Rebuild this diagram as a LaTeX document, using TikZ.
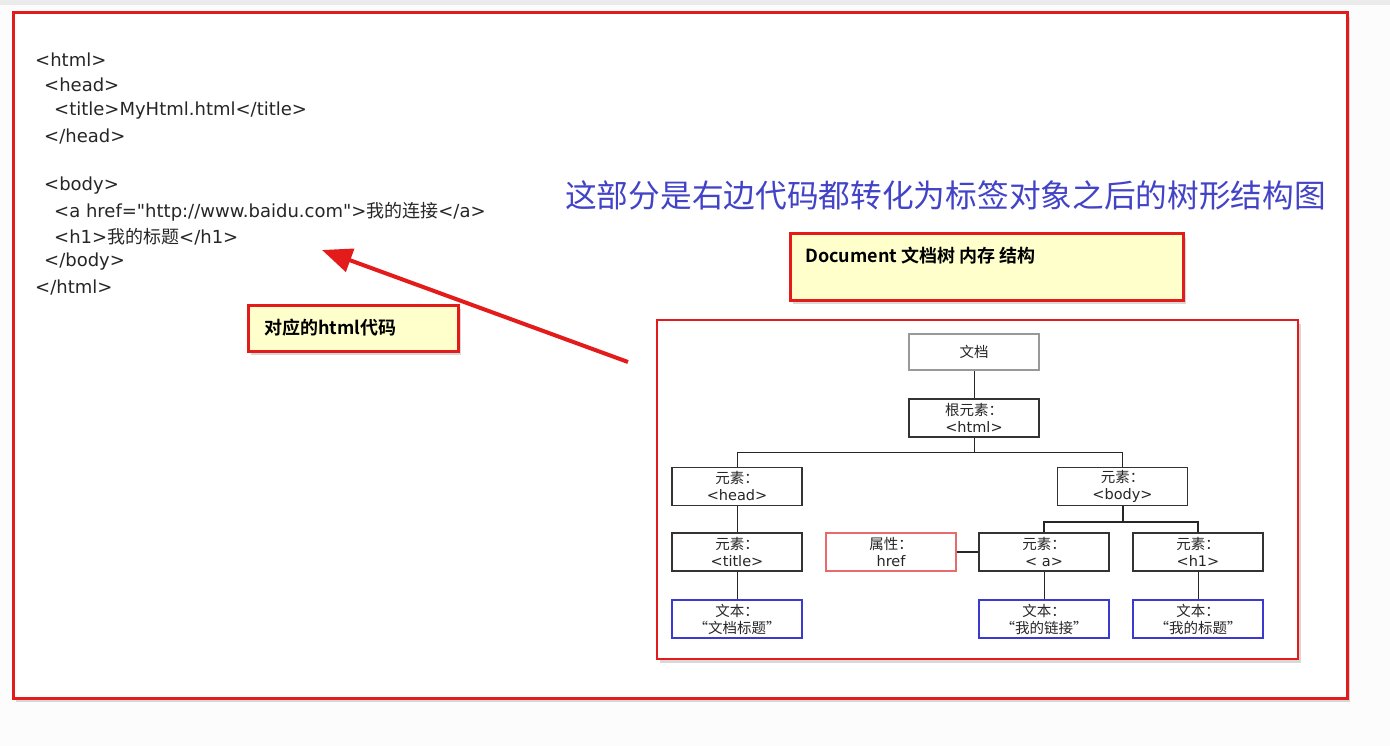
\documentclass[tikz,border=0pt]{standalone}
\usepackage{fontspec}
\setmainfont{DejaVu Sans}[Ligatures=TeXOff]
\newfontfamily\cjk{Noto Sans CJK SC}[BoldFont={Noto Sans CJK SC Bold}]
\usetikzlibrary{arrows.meta,shadows}

\definecolor{noteyellow}{HTML}{FFFFCC}
\definecolor{framered}{HTML}{E41B1B}
\definecolor{headblue}{HTML}{4343C8}
\definecolor{attrred}{HTML}{E86A6A}
\definecolor{textblue}{HTML}{3A3AD0}

\tikzset{
  redframe/.style={draw=framered, line width=3pt, fill=white,
    drop shadow={shadow xshift=3pt, shadow yshift=-4pt, opacity=0.3}},
  notebox/.style={draw=framered, line width=3pt, fill=noteyellow,
    drop shadow={shadow xshift=3pt, shadow yshift=-4pt, opacity=0.3},
    font=\cjk\fontsize{18}{22}\selectfont\bfseries, align=left, inner sep=0pt},
  codeline/.style={anchor=west, inner sep=0pt, font=\fontsize{18}{20}\selectfont, text=black!85},
  treebox/.style={draw=black!80, line width=1.3pt, fill=white, minimum width=130pt,
    minimum height=38pt, inner sep=0pt, align=center,
    font=\fontsize{14.5}{17}\selectfont, text=black!85},
  attrbox/.style={treebox, draw=attrred},
  textbox/.style={treebox, draw=textblue, font=\cjk\fontsize{14.5}{17}\selectfont},
  treeline/.style={draw=black!85, line width=1pt},
}

\begin{document}
\begin{tikzpicture}[x=1pt, y=-1pt]
\useasboundingbox (0,0) rectangle (1390,746);
\fill[white!99!black] (0,0) rectangle (1390,746);
\fill[black!8] (0,0) rectangle (1390,5);

% outer frame
\draw[redframe] (13,13) rectangle (1347,698);

% html code
\foreach \x/\y/\line in {35/60/{<html>}, 44/85/{<head>}, 54/111/{<title>MyHtml.html</title>},
  44/136/{</head>}, 44/186/{<body>},
  54/212/{<a href="http://www.baidu.com">{\cjk 我的连接}</a>},
  54/237/{<h1>{\cjk 我的标题}</h1>}, 44/262/{</body>}, 35/287/{</html>}}
  \node[codeline] at (\x,\y) {\line};

% note and arrow
\node[notebox, minimum width=210pt, minimum height=46pt, text width=178pt] (codenote)
  at (353,328) {对应的html代码};
\coordinate (arrowtail) at (628,362);
\coordinate (arrowtip) at (322,250);
\draw[framered, line width=4pt, -{Triangle[length=30pt, width=24pt]}] (arrowtail) -- (arrowtip);

% heading
\node[anchor=west, inner sep=0pt, text=headblue, font=\cjk\fontsize{31.7}{36}\selectfont] (heading)
  at (565,195) {这部分是右边代码都转化为标签对象之后的树形结构图};

% document note
\node[notebox, minimum width=393pt, minimum height=66pt] (docnote) at (986.5,267) {};
\node[anchor=west, inner sep=0pt, font=\cjk\fontsize{18}{22}\selectfont\bfseries] (doctitle)
  at (805,256) {Document 文档树 内存 结构};

% tree frame
\draw[redframe, line width=2.5pt] (657,320) rectangle (1298,659);

\node[treebox, draw=black!40, line width=2.2pt, minimum height=36pt] (doc) at (974,352) {\cjk 文档};
\node[treebox] (html) at (974,418) {{\cjk 根元素：}\\<html>};
\node[treebox] (head) at (737,486.5) {{\cjk 元素：}\\<head>};
\node[treebox] (body) at (1122.5,486.5) {{\cjk 元素：}\\<body>};
\node[treebox] (title) at (737,552) {{\cjk 元素：}\\<title>};
\node[attrbox] (href) at (891,552) {{\cjk 属性：}\\href};
\node[treebox] (a) at (1044,552) {{\cjk 元素：}\\< a>};
\node[treebox] (h1) at (1198,552) {{\cjk 元素：}\\<h1>};
\node[textbox] (titletext) at (737,619) {文本：\\“文档标题”};
\node[textbox] (atext) at (1044,619) {文本：\\“我的链接”};
\node[textbox] (h1text) at (1198,619) {文本：\\“我的标题”};

\draw[treeline] (doc) -- (html);
\draw[treeline] (html.south) -- ++(0,15) -| (head.north);
\draw[treeline] (html.south) -- ++(0,15) -| (body.north);
\draw[treeline] (head) -- (title);
\draw[treeline] (title) -- (titletext);
\draw[treeline, line width=2pt] (body.south) -- ++(0,16) -| (a.north);
\draw[treeline, line width=2pt] (body.south) -- ++(0,16) -| (h1.north);
\draw[treeline, line width=2pt] (href) -- (a);
\draw[treeline] (a) -- (atext);
\draw[treeline] (h1) -- (h1text);
\end{tikzpicture}
\end{document}
